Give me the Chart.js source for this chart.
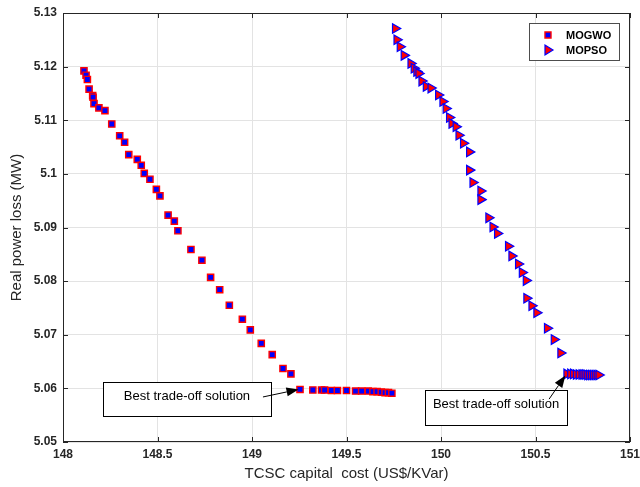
<!DOCTYPE html>
<html>
<head>
<meta charset="utf-8">
<script src="https://cdn.jsdelivr.net/npm/chart.js@4"></script>
<style>
    html, body { margin: 0; padding: 0; background: #ffffff; }
    #paretoChart { display: block; }
</style>
</head>
<body>
<canvas id="paretoChart" width="640" height="487"></canvas>
<script>
// Pareto front, MOGWO (TCSC cost vs real power loss)
const mogwoCost = [
    148.111, 148.122, 148.129, 148.138, 148.157, 148.159, 148.164, 148.190, 148.222,
    148.258, 148.300, 148.326, 148.348, 148.393, 148.414, 148.430, 148.460, 148.494,
    148.513, 148.556, 148.589, 148.608, 148.677, 148.735, 148.781, 148.829, 148.880,
    148.949, 148.991, 149.049, 149.107, 149.164, 149.206,
    149.254, 149.322, 149.368, 149.384, 149.420, 149.452, 149.500, 149.548, 149.580,
    149.616, 149.640, 149.662, 149.684, 149.704, 149.722, 149.740
]
const mogwoLoss = [
    5.1192, 5.1184, 5.1176, 5.1158, 5.1146, 5.1143, 5.1131, 5.1123, 5.1118,
    5.1093, 5.1071, 5.1059, 5.1036, 5.1027, 5.1016, 5.1001, 5.0990, 5.0971,
    5.0959, 5.0923, 5.0912, 5.0894, 5.0859, 5.0839, 5.0807, 5.0784, 5.0755,
    5.0729, 5.0709, 5.0684, 5.0663, 5.0637, 5.0627,
    5.0598, 5.0597, 5.0597, 5.0597, 5.0596, 5.0596, 5.0596, 5.0595, 5.0595,
    5.0595, 5.0594, 5.0594, 5.0593, 5.0592, 5.0592, 5.0591
]

// Pareto front, MOPSO
const mopsoCost = [
    149.758, 149.766, 149.783, 149.804, 149.840, 149.857, 149.871, 149.882, 149.898,
    149.921, 149.946, 149.986, 150.009, 150.026, 150.044, 150.057, 150.079, 150.094,
    150.118, 150.150, 150.150, 150.168, 150.210, 150.210, 150.252, 150.274, 150.298,
    150.356, 150.374, 150.409, 150.429, 150.450, 150.453, 150.480, 150.506, 150.562,
    150.598, 150.633,
    150.665, 150.685, 150.700, 150.715, 150.730, 150.745, 150.755, 150.765, 150.775,
    150.785, 150.795, 150.805, 150.815, 150.825, 150.835
]
const mopsoLoss = [
    5.1271, 5.1250, 5.1237, 5.1221, 5.1206, 5.1197, 5.1191, 5.1187, 5.1173,
    5.1163, 5.1160, 5.1147, 5.1135, 5.1122, 5.1105, 5.1094, 5.1088, 5.1072,
    5.1057, 5.1041, 5.1007, 5.0984, 5.0968, 5.0952, 5.0918, 5.0901, 5.0889,
    5.0865, 5.0847, 5.0832, 5.0816, 5.0801, 5.0768, 5.0754, 5.0741, 5.0712,
    5.0691, 5.0666,
    5.0627, 5.0627, 5.0627, 5.0626, 5.0626, 5.0626, 5.0626, 5.0626, 5.0625,
    5.0625, 5.0625, 5.0625, 5.0625, 5.0625, 5.0625
]

const seriesNames = ['MOGWO', 'MOPSO']
const xTicks = [148, 148.5, 149, 149.5, 150, 150.5, 151]
const yTicks = [5.05, 5.06, 5.07, 5.08, 5.09, 5.1, 5.11, 5.12, 5.13]

// "Best trade-off solution" call-outs: box corners and arrow in data units
const callouts = [
    { text: 'Best trade-off solution', x0: 148.212, x1: 149.100, y0: 5.0612, y1: 5.0548,
      fromX: 149.058, fromY: 5.0584, toX: 149.246, toY: 5.0598 },
    { text: 'Best trade-off solution', x0: 149.915, x1: 150.667, y0: 5.0597, y1: 5.0531,
      fromX: 150.572, fromY: 5.0580, toX: 150.658, toY: 5.0624 }
]

const FONT = '"Liberation Sans", Arial, Helvetica, sans-serif'
const INK = '#262626'

function toPoints(xs, ys) {
    return xs.map((x, i) => ({ x: x, y: ys[i] }))
}

function formatTick(value) {
    return String(Number(value.toFixed(2)))
}

function drawArrow(ctx, x1, y1, x2, y2) {
    const angle = Math.atan2(y2 - y1, x2 - x1)
    const headLen = 12
    const headHalf = 4.5
    const bx = x2 - headLen * Math.cos(angle)
    const by = y2 - headLen * Math.sin(angle)

    ctx.beginPath()
    ctx.moveTo(x1, y1)
    ctx.lineTo(bx, by)
    ctx.stroke()

    ctx.beginPath()
    ctx.moveTo(x2, y2)
    ctx.lineTo(bx + headHalf * Math.sin(angle), by - headHalf * Math.cos(angle))
    ctx.lineTo(bx - headHalf * Math.sin(angle), by + headHalf * Math.cos(angle))
    ctx.closePath()
    ctx.fill()
}

// MATLAB style box: full frame, inward ticks, legend and call-outs
const matlabFrame = {
    id: 'matlabFrame',
    afterDraw(chart) {
        const ctx = chart.ctx
        const area = chart.chartArea
        const xs = chart.scales.x
        const ys = chart.scales.y

        ctx.save()

        // call-out boxes and arrows
        callouts.forEach(c => {
            const left = xs.getPixelForValue(c.x0)
            const right = xs.getPixelForValue(c.x1)
            const top = ys.getPixelForValue(c.y0)
            const bottom = ys.getPixelForValue(c.y1)

            ctx.fillStyle = '#ffffff'
            ctx.fillRect(left, top, right - left, bottom - top)
            ctx.strokeStyle = '#000000'
            ctx.lineWidth = 1
            ctx.strokeRect(Math.round(left) + 0.5, Math.round(top) + 0.5, Math.round(right - left), Math.round(bottom - top))

            ctx.fillStyle = '#000000'
            ctx.font = '13px ' + FONT
            ctx.textAlign = 'center'
            ctx.textBaseline = 'middle'
            ctx.fillText(c.text, (left + right) / 2, (top + bottom) / 2 - 3)

            ctx.lineWidth = 1
            drawArrow(ctx,
                xs.getPixelForValue(c.fromX), ys.getPixelForValue(c.fromY),
                xs.getPixelForValue(c.toX), ys.getPixelForValue(c.toY))
        })

        // frame
        ctx.strokeStyle = INK
        ctx.lineWidth = 1
        ctx.strokeRect(Math.round(area.left) + 0.5, Math.round(area.top) + 0.5,
            Math.round(area.right - area.left) - 1, Math.round(area.bottom - area.top) - 1)

        // inward ticks on all four sides
        ctx.beginPath()
        const tickLen = 5
        xTicks.forEach(v => {
            const px = Math.round(xs.getPixelForValue(v)) + 0.5
            ctx.moveTo(px, area.bottom)
            ctx.lineTo(px, area.bottom - tickLen)
            ctx.moveTo(px, area.top)
            ctx.lineTo(px, area.top + tickLen)
        })
        yTicks.forEach(v => {
            const py = Math.round(ys.getPixelForValue(v)) + 0.5
            ctx.moveTo(area.left, py)
            ctx.lineTo(area.left + tickLen, py)
            ctx.moveTo(area.right, py)
            ctx.lineTo(area.right - tickLen, py)
        })
        ctx.stroke()

        // legend box in the upper right corner
        const legW = 90
        const legH = 37
        const legX = area.right - 11 - legW
        const legY = area.top + 10
        ctx.fillStyle = '#ffffff'
        ctx.fillRect(legX, legY, legW, legH)
        ctx.strokeStyle = '#4d4d4d'
        ctx.strokeRect(legX + 0.5, legY + 0.5, legW, legH)

        ctx.font = 'bold 11px ' + FONT
        ctx.textAlign = 'left'
        ctx.textBaseline = 'middle'
        seriesNames.forEach((name, i) => {
            const ds = chart.data.datasets[i]
            const cy = legY + 12 + i * 15
            const cx = legX + 19
            ctx.fillStyle = ds.backgroundColor
            ctx.strokeStyle = ds.borderColor
            ctx.lineWidth = ds.borderWidth
            ctx.beginPath()
            if (ds.pointStyle === 'rect') {
                ctx.rect(cx - 3, cy - 3, 6, 6)
            } else {
                ctx.moveTo(cx + 5, cy)
                ctx.lineTo(cx - 3, cy - 5)
                ctx.lineTo(cx - 3, cy + 5)
                ctx.closePath()
            }
            ctx.fill()
            ctx.stroke()
            ctx.fillStyle = '#000000'
            ctx.fillText(name, legX + 37, cy + 1)
        })

        ctx.restore()
    }
}

const chart = new Chart(document.getElementById('paretoChart'), {
    type: 'scatter',
    data: {
        datasets: [{
            label: seriesNames[0],
            data: toPoints(mogwoCost, mogwoLoss),
            pointStyle: 'rect',
            pointRadius: 4.4,
            backgroundColor: '#0000ff',
            borderColor: '#ff0000',
            borderWidth: 1.4,
            order: 1
        }, {
            label: seriesNames[1],
            data: toPoints(mopsoCost, mopsoLoss),
            pointStyle: 'triangle',
            rotation: 90,
            pointRadius: 5.5,
            backgroundColor: '#ff0000',
            borderColor: '#0000ff',
            borderWidth: 1.2,
            order: 2
        }]
    },
    options: {
        responsive: false,
        devicePixelRatio: 1,
        animation: false,
        layout: {
            padding: { top: 13, right: 10, bottom: 0, left: 0 }
        },
        plugins: {
            legend: { display: false },
            tooltip: { enabled: false }
        },
        scales: {
            x: {
                type: 'linear',
                min: 148,
                max: 151,
                afterBuildTicks: scale => { scale.ticks = xTicks.map(v => ({ value: v })) },
                afterFit: scale => {
                    scale.height = 45
                    // let the "151" label run into the margin, as in the original
                    scale.paddingLeft = 0
                    scale.paddingRight = 0
                },
                grid: { color: '#e3e3e3', drawTicks: false },
                border: { display: false },
                ticks: {
                    padding: 5,
                    color: INK,
                    maxRotation: 0,
                    font: { family: FONT, size: 12, weight: 'bold' },
                    callback: v => formatTick(v)
                },
                title: {
                    display: true,
                    text: 'TCSC capital  cost (US$/KVar)',
                    color: INK,
                    font: { family: FONT, size: 15 },
                    padding: { top: 0, bottom: 4 }
                }
            },
            y: {
                type: 'linear',
                min: 5.05,
                max: 5.13,
                afterBuildTicks: scale => { scale.ticks = yTicks.map(v => ({ value: v })) },
                afterFit: scale => {
                    scale.width = 63
                    scale.paddingTop = 0
                    scale.paddingBottom = 0
                },
                grid: { color: '#e3e3e3', drawTicks: false },
                border: { display: false },
                ticks: {
                    padding: 6,
                    color: INK,
                    font: { family: FONT, size: 12, weight: 'bold' },
                    callback: v => formatTick(v)
                },
                title: {
                    display: true,
                    text: 'Real power loss (MW)',
                    color: INK,
                    font: { family: FONT, size: 15 },
                    padding: { top: 8, bottom: 0 }
                }
            }
        }
    },
    plugins: [matlabFrame]
})
</script>
</body>
</html>
